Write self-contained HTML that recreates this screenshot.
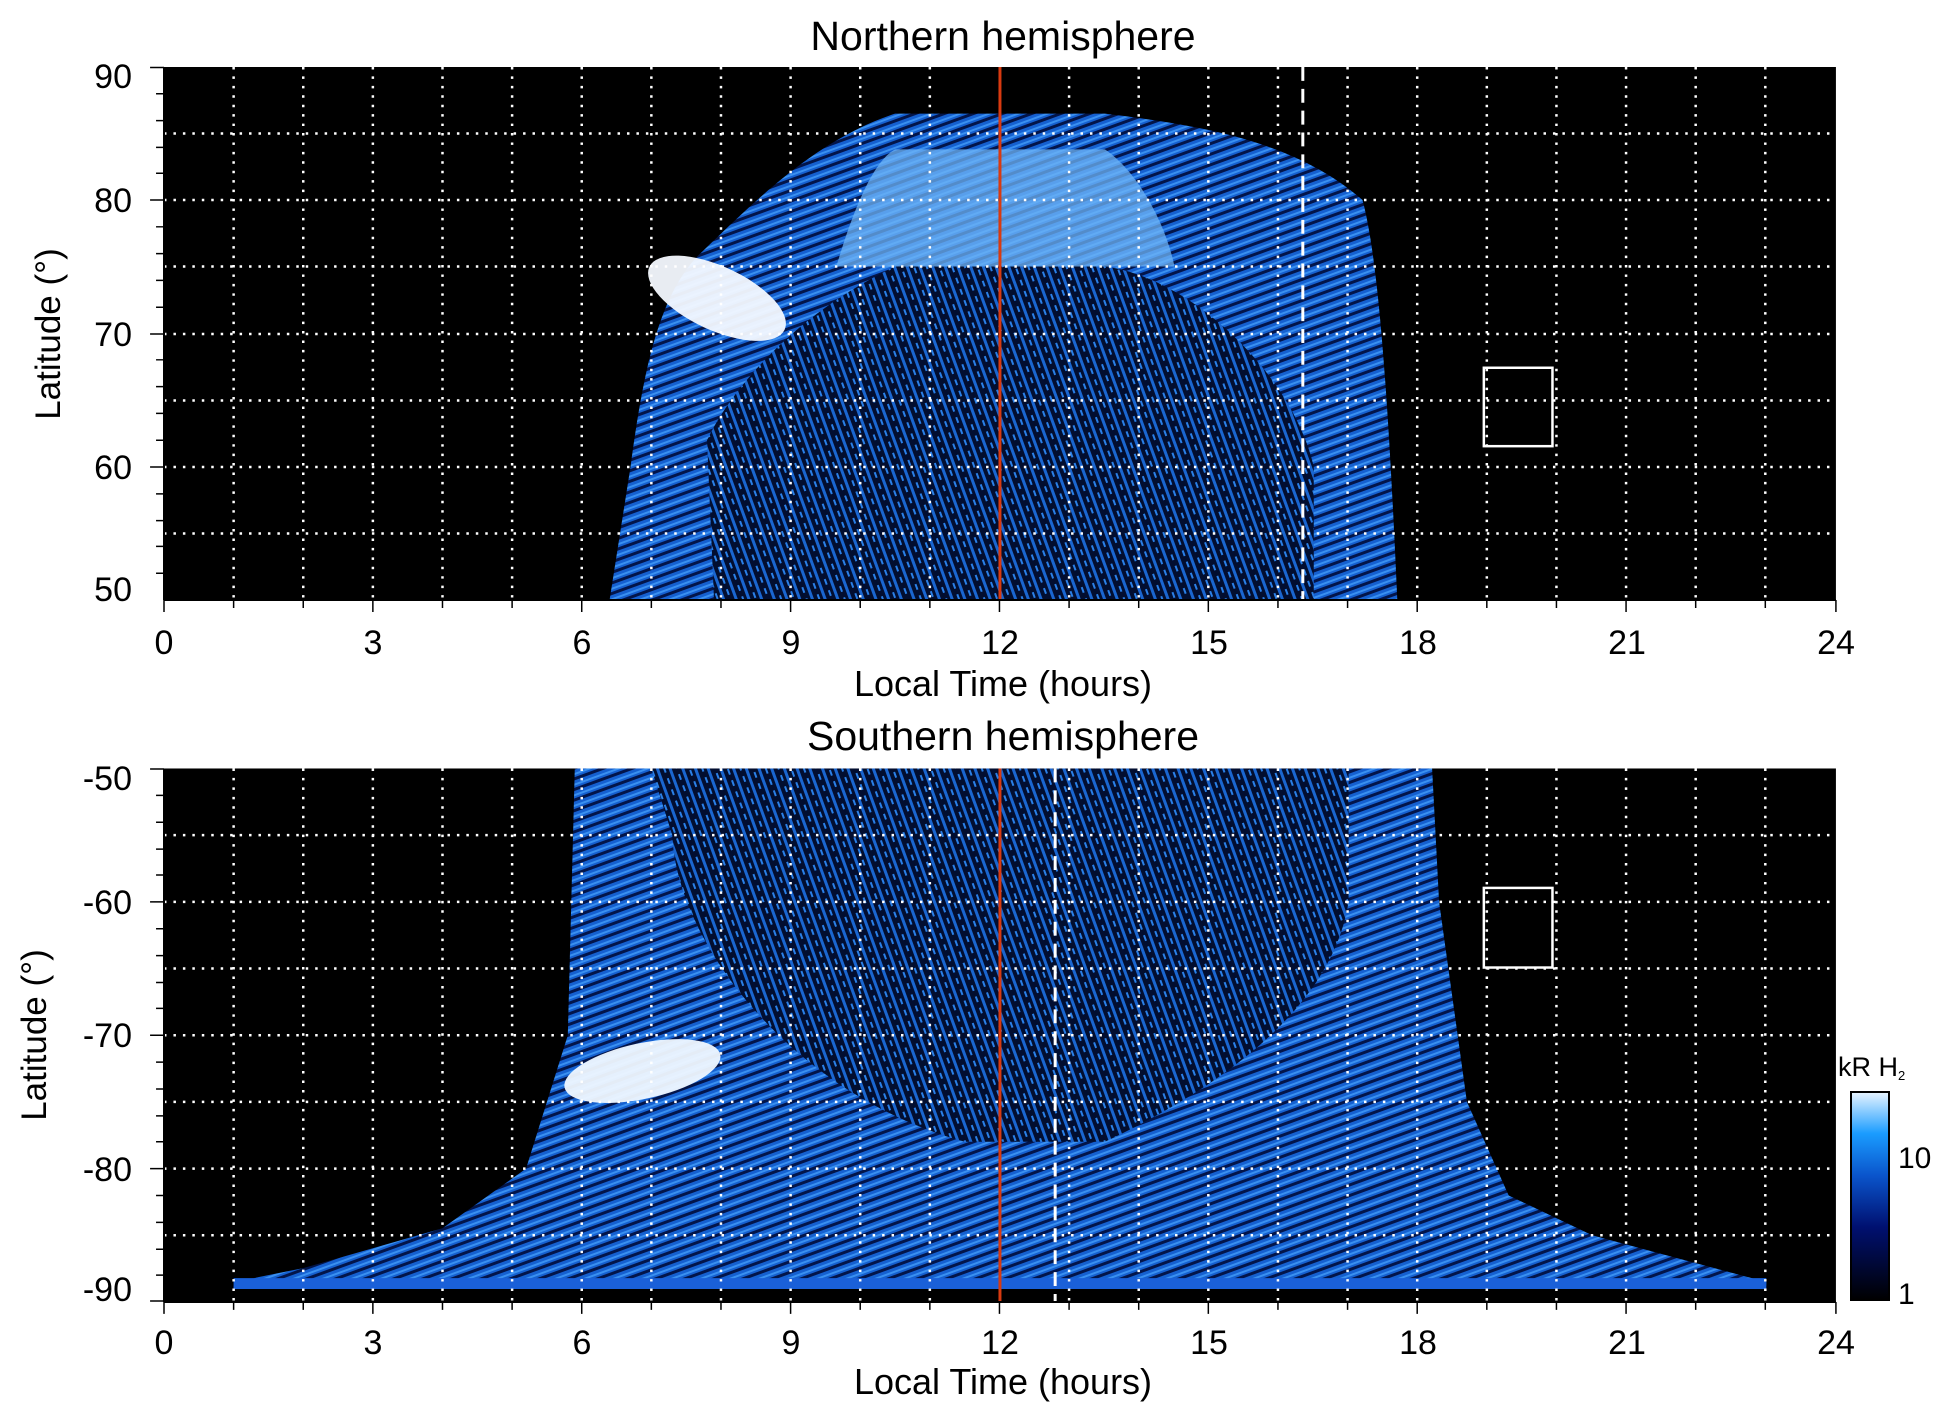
<!DOCTYPE html>
<html><head><style>
html,body{margin:0;padding:0;background:#fff;}
svg{display:block;font-family:"Liberation Sans",sans-serif;}
</style></head><body>
<svg width="1950" height="1423" viewBox="0 0 1950 1423" xmlns="http://www.w3.org/2000/svg">
<defs>
<linearGradient id="cb" x1="0" y1="1" x2="0" y2="0">
<stop offset="0" stop-color="#000000"/><stop offset="0.35" stop-color="#001070"/><stop offset="0.6" stop-color="#0a55cc"/><stop offset="0.8" stop-color="#1a9cff"/><stop offset="1" stop-color="#e8f4ff"/>
</linearGradient>
<pattern id="streak" width="14" height="10" patternUnits="userSpaceOnUse" patternTransform="rotate(-20)">
<rect width="14" height="10" fill="#1560d0"/><rect y="0" width="14" height="3" fill="#03154a"/><rect y="6" width="14" height="2" fill="#3a90f0"/>
</pattern>
<pattern id="speck" width="12" height="12" patternUnits="userSpaceOnUse" patternTransform="rotate(70)">
<rect width="12" height="12" fill="#020e30"/><rect x="0" y="2" width="12" height="3" fill="#1a66d0"/><rect x="3" y="8" width="6" height="2" fill="#2a80e8"/>
</pattern>
<clipPath id="c1"><rect x="164" y="67" width="1681" height="537"/></clipPath>
<clipPath id="c2"><rect x="164" y="771" width="1681" height="536"/></clipPath>
</defs>

<!-- TOP PANEL -->
<text x="1003" y="50" font-size="41" text-anchor="middle">Northern hemisphere</text>
<g transform="matrix(0.9946 0 0 0.9926 0.886 0.496)">
<rect x="164" y="67" width="1681" height="537" fill="#000"/>
<g clip-path="url(#c1)">
<path d="M612,604 L633,470 C645,380 660,300 700,258 C760,200 820,140 899,114 L1110,114 C1200,125 1300,140 1369,201 C1385,260 1395,400 1404,604 Z" fill="url(#streak)"/>
<path d="M840,268 C860,200 880,160 899,150 L1110,150 C1140,170 1170,220 1180,268 Z" fill="#6fb4f5" opacity="0.75"/>
<ellipse cx="720" cy="300" rx="75" ry="32" transform="rotate(25 720 300)" fill="#f4f9ff" opacity="0.95"/>
<path d="M717,604 L710,443 C730,400 790,320 899,268 L1110,268 C1200,280 1300,380 1320,470 L1320,604 Z" fill="url(#speck)"/>
</g>
<g stroke="#fff" stroke-width="2.5" stroke-dasharray="2.5,7" fill="none">
<path d="M234,67V604M304,67V604M374,67V604M444,67V604M514,67V604M584,67V604M654,67V604M724,67V604M794,67V604M864,67V604M934,67V604M1074,67V604M1144,67V604M1214,67V604M1284,67V604M1354,67V604M1424,67V604M1494,67V604M1564,67V604M1634,67V604M1704,67V604M1774,67V604"/>
<path d="M164,134H1845M164,201H1845M164,268H1845M164,336H1845M164,403H1845M164,470H1845M164,537H1845"/>
</g>
<line x1="1309" y1="67" x2="1309" y2="604" stroke="#fff" stroke-width="3" stroke-dasharray="14,8"/>
<line x1="1004.5" y1="67" x2="1004.5" y2="604" stroke="#d83a10" stroke-width="3"/>
<rect x="1491" y="370" width="69" height="79" fill="none" stroke="#fff" stroke-width="2.5"/>
<line x1="164" y1="67" x2="164" y2="604" stroke="#000" stroke-width="2"/>
<line x1="164" y1="604" x2="1845" y2="604" stroke="#000" stroke-width="2"/>
<path d="M150,67.5h14M150,201h14M150,336h14M150,470h14M156,94h8M156,121h8M156,148h8M156,174h8M156,228h8M156,255h8M156,282h8M156,309h8M156,362h8M156,389h8M156,416h8M156,443h8M156,497h8M156,524h8M156,550h8M156,577h8M164,604v12M234,604v8M304,604v8M374,604v12M444,604v8M514,604v8M584,604v12M654,604v8M724,604v8M794,604v12M864,604v8M934,604v8M1004,604v12M1074,604v8M1144,604v8M1214,604v12M1284,604v8M1354,604v8M1424,604v12M1494,604v8M1564,604v8M1634,604v12M1704,604v8M1774,604v8M1845,604v12" stroke="#000" stroke-width="1.5"/>
</g>
<g font-size="34" text-anchor="end">
<text x="132" y="88">90</text><text x="132" y="212">80</text><text x="132" y="346">70</text><text x="132" y="479">60</text><text x="132" y="601">50</text>
</g>
<g font-size="34" text-anchor="middle">
<text x="164" y="654">0</text><text x="373" y="654">3</text><text x="582" y="654">6</text><text x="791" y="654">9</text><text x="1000" y="654">12</text><text x="1209" y="654">15</text><text x="1418" y="654">18</text><text x="1627" y="654">21</text><text x="1836" y="654">24</text>
</g>
<text x="1003" y="696" font-size="36" text-anchor="middle">Local Time (hours)</text>
<text transform="translate(60,334) rotate(-90)" font-size="35" text-anchor="middle">Latitude (°)</text>

<!-- BOTTOM PANEL -->
<text x="1003" y="750" font-size="41" text-anchor="middle">Southern hemisphere</text>
<g transform="matrix(0.9946 0 0 0.9953 0.886 1.1)">
<rect x="164" y="771" width="1681" height="536" fill="#000"/>
<g clip-path="url(#c2)">
<path d="M577,771 L570,1039 L528,1173 L444,1233 L304,1273 L234,1287 L234,1294 L1775,1294 L1775,1287 L1600,1240 L1516,1200 L1474,1106 L1446,905 L1439,771 Z" fill="url(#streak)"/>
<path d="M234,1283 L1775,1283 L1775,1294 L234,1294 Z" fill="#1a60d8"/>
<ellipse cx="645" cy="1075" rx="80" ry="28" transform="rotate(-12 645 1075)" fill="#f0f8ff" opacity="0.95"/>
<path d="M654,771 L675,838 C680,950 800,1100 969,1146 L1110,1146 C1250,1080 1340,1000 1355,905 L1355,771 Z" fill="url(#speck)"/>
</g>
<g stroke="#fff" stroke-width="2.5" stroke-dasharray="2.5,7" fill="none">
<path d="M234,771V1307M304,771V1307M374,771V1307M444,771V1307M514,771V1307M584,771V1307M654,771V1307M724,771V1307M794,771V1307M864,771V1307M934,771V1307M1074,771V1307M1144,771V1307M1214,771V1307M1284,771V1307M1354,771V1307M1424,771V1307M1494,771V1307M1564,771V1307M1634,771V1307M1704,771V1307M1774,771V1307"/>
<path d="M164,838H1845M164,905H1845M164,972H1845M164,1039H1845M164,1106H1845M164,1173H1845M164,1240H1845"/>
</g>
<line x1="1060" y1="771" x2="1060" y2="1307" stroke="#fff" stroke-width="3" stroke-dasharray="14,8"/>
<line x1="1004.5" y1="771" x2="1004.5" y2="1307" stroke="#d83a10" stroke-width="3"/>
<rect x="1491" y="891" width="69" height="80" fill="none" stroke="#fff" stroke-width="2.5"/>
<line x1="164" y1="771" x2="164" y2="1307" stroke="#000" stroke-width="2"/>
<line x1="164" y1="1307" x2="1845" y2="1307" stroke="#000" stroke-width="2"/>
<path d="M150,771.5h14M150,905h14M150,1039h14M150,1173h14M150,1306h14M156,798h8M156,825h8M156,852h8M156,878h8M156,932h8M156,959h8M156,986h8M156,1012h8M156,1066h8M156,1093h8M156,1120h8M156,1146h8M156,1200h8M156,1227h8M156,1254h8M156,1280h8M164,1307v12M234,1307v8M304,1307v8M374,1307v12M444,1307v8M514,1307v8M584,1307v12M654,1307v8M724,1307v8M794,1307v12M864,1307v8M934,1307v8M1004,1307v12M1074,1307v8M1144,1307v8M1214,1307v12M1284,1307v8M1354,1307v8M1424,1307v12M1494,1307v8M1564,1307v8M1634,1307v12M1704,1307v8M1774,1307v8M1845,1307v12" stroke="#000" stroke-width="1.5"/>
</g>
<g font-size="34" text-anchor="end">
<text x="132" y="790">-50</text><text x="132" y="914">-60</text><text x="132" y="1047">-70</text><text x="132" y="1181">-80</text><text x="132" y="1301">-90</text>
</g>
<g font-size="34" text-anchor="middle">
<text x="164" y="1354">0</text><text x="373" y="1354">3</text><text x="582" y="1354">6</text><text x="791" y="1354">9</text><text x="1000" y="1354">12</text><text x="1209" y="1354">15</text><text x="1418" y="1354">18</text><text x="1627" y="1354">21</text><text x="1836" y="1354">24</text>
</g>
<text x="1003" y="1394" font-size="36" text-anchor="middle">Local Time (hours)</text>
<text transform="translate(46,1035) rotate(-90)" font-size="35" text-anchor="middle">Latitude (°)</text>

<!-- colorbar -->
<text x="1838" y="1076" font-size="27">kR H<tspan font-size="13" dy="4">2</tspan></text>
<rect x="1851" y="1092" width="38" height="208" fill="url(#cb)" stroke="#000" stroke-width="2"/>
<text x="1898" y="1168" font-size="30">10</text>
<text x="1898" y="1304" font-size="30">1</text>
</svg>
</body></html>
